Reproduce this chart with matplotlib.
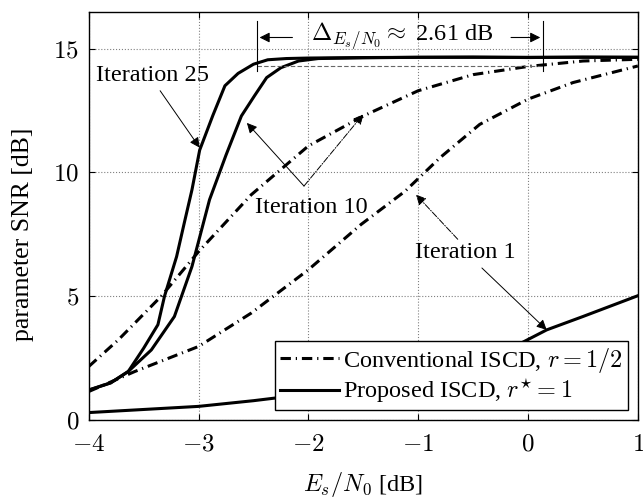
import matplotlib
matplotlib.use("Agg")
import matplotlib.pyplot as plt

plt.rcParams["font.family"] = "serif"
plt.rcParams["font.serif"] = ["Liberation Serif", "DejaVu Serif"]
plt.rcParams["mathtext.fontset"] = "cm"
plt.rcParams["font.size"] = 17.5

xticks = [-4, -3, -2, -1, 0, 1]
yticks = [0, 5, 10, 15]

# proposed ISCD (r* = 1), solid
prop_it1_x = [-4, -3, -2.5, -2, -1.5, -1, -0.5, -0.075, 0.17, 0.5, 1]
prop_it1_y = [0.3, 0.55, 0.78, 1.05, 1.4, 1.85, 2.45, 3.08, 3.64, 4.18, 5.02]

prop_it10_x = [-4, -3.8, -3.64, -3.43, -3.22, -3.06, -2.9, -2.75, -2.61, -2.49,
               -2.38, -2.25, -2.09, -1.91, -1.5, -1, 0, 1]
prop_it10_y = [1.21, 1.5, 1.96, 2.83, 4.18, 6.2, 8.9, 10.7, 12.28, 13.1,
               13.83, 14.23, 14.5, 14.6, 14.63, 14.65, 14.65, 14.65]

prop_it25_x = [-4, -3.8, -3.64, -3.5, -3.37, -3.31, -3.2, -3.13, -3.06, -2.99,
               -2.87, -2.76, -2.64, -2.5, -2.37, -2.2, -2, -1.5, -1, -0.5, 0, 0.5, 1]
prop_it25_y = [1.21, 1.5, 1.96, 2.9, 3.85, 5.0, 6.6, 7.96, 9.3, 10.9,
               12.3, 13.5, 14.0, 14.37, 14.55, 14.6, 14.62, 14.64, 14.65, 14.66, 14.64, 14.66, 14.65]

# conventional ISCD (r = 1/2), dash-dot
conv_it1_x = [-4, -3.58, -3, -2.52, -2, -1.52, -1.12, -0.8, -0.44, 0, 0.41, 1]
conv_it1_y = [1.15, 1.96, 2.97, 4.32, 6.07, 7.9, 9.24, 10.6, 11.94, 12.96, 13.63, 14.3]

conv_it10_x = [-4, -3.73, -3.34, -3, -2.52, -2, -1.49, -1, -0.5, 0, 0.5, 1]
conv_it10_y = [2.16, 3.24, 5.0, 6.8, 9.1, 11.07, 12.3, 13.3, 13.95, 14.28, 14.5, 14.57]

# gap marker
gap_left, gap_right, gap_level = -2.47, 0.137, 14.3

fig = plt.figure(figsize=(6.43, 5.0), dpi=100)
ax = fig.add_axes([0.138, 0.16, 0.854, 0.817])

dashdot = (0, (3.4, 1.6, 0.4, 1.6))
lw = 2.2
ax.plot(conv_it1_x, conv_it1_y, color="black", lw=lw, ls=dashdot)
ax.plot(conv_it10_x, conv_it10_y, color="black", lw=lw, ls=dashdot,
        label=r"Conventional ISCD, $r = 1/2$")
ax.plot(prop_it1_x, prop_it1_y, color="black", lw=lw)
ax.plot(prop_it10_x, prop_it10_y, color="black", lw=lw)
ax.plot(prop_it25_x, prop_it25_y, color="black", lw=lw,
        label=r"Proposed ISCD, $r^{\star} = 1$")

# 2.61 dB gap
ax.plot([gap_left, gap_right], [gap_level, gap_level], color="0.4", lw=0.8, ls=(0, (4, 2)))
for gx in (gap_left, gap_right):
    ax.plot([gx, gx], [14.1, 16.1], color="black", lw=0.8)
ax.annotate("", xy=(gap_left, 15.45), xytext=(-2.12, 15.45),
            arrowprops=dict(arrowstyle="-|>", color="black", lw=0.8, mutation_scale=15))
ax.annotate("", xy=(gap_right, 15.45), xytext=(-0.18, 15.45),
            arrowprops=dict(arrowstyle="-|>", color="black", lw=0.8, mutation_scale=15))
ax.text(-1.15, 15.5, r"$\Delta_{E_s/N_0} \approx$ 2.61 dB", ha="center", va="center")

# iteration labels
arr = dict(arrowstyle="-|>", color="black", lw=0.7, mutation_scale=15, shrinkA=0, shrinkB=0)
arr_dd = dict(arr, linestyle="-.")
ax.text(-3.93, 13.9, "Iteration 25", ha="left", va="center")
ax.annotate("", xy=(-2.99, 11.0), xytext=(-3.35, 13.3), arrowprops=arr)

ax.text(-2.49, 8.6, "Iteration 10", ha="left", va="center")
ax.annotate("", xy=(-2.56, 12.0), xytext=(-2.04, 9.45), arrowprops=arr)
ax.annotate("", xy=(-1.50, 12.35), xytext=(-2.04, 9.45), arrowprops=arr_dd)

ax.text(-1.03, 6.75, "Iteration 1", ha="left", va="center")
ax.annotate("", xy=(-1.02, 9.1), xytext=(-0.64, 7.3), arrowprops=arr_dd)
ax.annotate("", xy=(0.17, 3.64), xytext=(-0.42, 6.14), arrowprops=arr)

ax.set_xlim(-4, 1)
ax.set_ylim(0, 16.5)
ax.set_xticks(xticks, [f"${v}$" for v in xticks])
ax.set_yticks(yticks, [f"${v}$" for v in yticks])
ax.grid(True, color="0.5", ls=":", lw=0.8)
ax.tick_params(direction="in", top=True, right=True, length=4, labelsize=18)
ax.tick_params(axis="x", pad=10)
ax.tick_params(axis="y", pad=7)
for s in ax.spines.values():
    s.set_linewidth(1.0)
ax.set_xlabel(r"$E_s/N_0$ [dB]", labelpad=10)
ax.set_ylabel("parameter SNR [dB]", fontsize=18.5)
ax.yaxis.set_label_coords(-0.1, 0.455)

leg = ax.legend(loc="lower right", fancybox=False, framealpha=1, edgecolor="black",
                borderaxespad=0.4, handlelength=2.4, labelspacing=0.08, borderpad=0.2,
                handletextpad=0.2)
leg.get_frame().set_linewidth(1.0)

fig.savefig("out.png", dpi=100)
